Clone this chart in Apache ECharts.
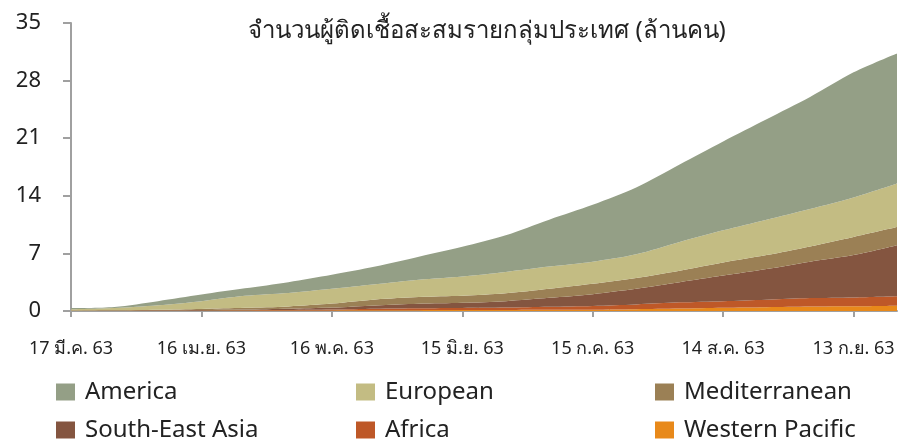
<!DOCTYPE html>
<html>
<head>
<meta charset="utf-8">
<script src="https://cdn.jsdelivr.net/npm/echarts@6/dist/echarts.min.js"></script>
<style>
  html, body { margin: 0; padding: 0; background: #fff; }
</style>
</head>
<body>
<div id="myChart" style="width: 900px; height: 442px"></div>
<script>
// วันนับจาก 17 มี.ค. 63
const days = [0, 10, 20, 30, 40, 50, 60, 70, 80, 90, 100, 110, 120, 130, 140, 150, 160, 170, 180, 190];
const tickDays = [0, 30, 60, 90, 120, 150, 180];
const tickLabels = ['17 มี.ค. 63', '16 เม.ย. 63', '16 พ.ค. 63', '15 มิ.ย. 63', '15 ก.ค. 63', '14 ส.ค. 63', '13 ก.ย. 63'];

// ล้านคน
const america       = [0.15, 0.15, 0.5, 0.8, 0.9, 1.3, 1.7, 2.15, 2.8, 3.6, 4.45, 5.7, 6.9, 8.1, 9.4, 10.8, 12.2, 13.6, 15.2, 15.8];
const european      = [0.15, 0.27, 0.55, 0.95, 1.47, 1.65, 1.8, 1.85, 2.1, 2.35, 2.6, 2.7, 2.7, 2.9, 3.5, 3.9, 4.3, 4.55, 4.8, 5.3];
const mediterranean = [0.02, 0.03, 0.07, 0.13, 0.2, 0.27, 0.48, 0.72, 0.82, 0.85, 0.95, 1.1, 1.25, 1.3, 1.4, 1.6, 1.7, 1.85, 2.2, 2.2];
const seAsia        = [0.01, 0.02, 0.03, 0.05, 0.08, 0.16, 0.25, 0.4, 0.54, 0.63, 0.78, 1.08, 1.43, 1.9, 2.45, 3.1, 3.72, 4.43, 5.15, 6.2];
const africa        = [0.01, 0.01, 0.02, 0.03, 0.05, 0.06, 0.1, 0.2, 0.24, 0.26, 0.3, 0.38, 0.46, 0.58, 0.75, 0.8, 0.91, 1.02, 1.07, 1.15];
const westPacific   = [0.01, 0.02, 0.03, 0.04, 0.05, 0.06, 0.07, 0.08, 0.1, 0.11, 0.12, 0.14, 0.16, 0.22, 0.3, 0.4, 0.47, 0.55, 0.58, 0.65];

const font = 'Tahoma, "Noto Sans", "DejaVu Sans", sans-serif';
const DAY = 24 * 60 * 60 * 1000;
const start = Date.UTC(2020, 2, 17);

function pairs(arr) {
  return arr.map((v, i) => [start + days[i] * DAY, v]);
}

// วาดจากล่างขึ้นบน
const layers = [
  { name: 'Western Pacific', data: westPacific, color: '#e8891a' },
  { name: 'Africa', data: africa, color: '#be5828' },
  { name: 'South-East Asia', data: seAsia, color: '#845540' },
  { name: 'Mediterranean', data: mediterranean, color: '#9b8055' },
  { name: 'European', data: european, color: '#c3bc83' },
  { name: 'America', data: america, color: '#949f86' },
];

// ตำแหน่ง legend 3 คอลัมน์ x 2 แถว
const legendSpots = [
  ['America', 56, 380], ['European', 356, 380], ['Mediterranean', 655, 380],
  ['South-East Asia', 56, 418], ['Africa', 356, 418], ['Western Pacific', 655, 418],
];

let myChart = echarts.init(document.getElementById('myChart'));
myChart.setOption({
  animation: false,
  title: {
    text: 'จำนวนผู้ติดเชื้อสะสมรายกลุ่มประเทศ (ล้านคน)',
    left: 482,
    textAlign: 'center',
    top: 14,
    textStyle: { fontFamily: font, fontSize: 24, fontWeight: 'normal', color: '#222' },
  },
  legend: legendSpots.map(([name, x, y]) => ({
    left: x,
    top: y,
    padding: 0,
    data: [name],
    itemWidth: 19,
    itemHeight: 17,
    icon: 'rect',
    selectedMode: false,
    textStyle: { fontFamily: font, fontSize: 24, color: '#222', padding: [0, 0, 0, 5] },
  })),
  grid: { left: 71, right: 3, top: 23, bottom: 131 },
  xAxis: [
    // แกนเวลาสำหรับข้อมูล (ซ่อน)
    {
      type: 'time',
      min: start,
      max: start + 190 * DAY,
      show: false,
    },
    // แกนที่แสดงป้ายวันที่
    {
      type: 'value',
      position: 'bottom',
      min: 0,
      max: 190,
      interval: 30,
      splitLine: { show: false },
      axisLine: { lineStyle: { color: '#a0a0a0', width: 2 } },
      axisTick: { length: 6, lineStyle: { color: '#a0a0a0', width: 2 }, customValues: tickDays },
      axisLabel: {
        customValues: tickDays,
        margin: 29,
        fontFamily: font,
        fontSize: 18,
        color: '#222',
        formatter: (v) => tickLabels[Math.round(v / 30)] || '',
      },
    },
  ],
  yAxis: {
    type: 'value',
    min: 0,
    max: 35,
    interval: 7,
    splitLine: { show: false },
    axisLine: { show: true, lineStyle: { color: '#a0a0a0', width: 2 } },
    axisTick: { show: true, length: 8, lineStyle: { color: '#a0a0a0', width: 2 } },
    axisLabel: { margin: 30, fontFamily: font, fontSize: 22, color: '#222' },
  },
  series: layers.map((l) => ({
    name: l.name,
    type: 'line',
    xAxisIndex: 0,
    stack: 'total',
    smooth: 0.3,
    data: pairs(l.data),
    symbol: 'none',
    lineStyle: { width: 0 },
    itemStyle: { color: l.color },
    areaStyle: { color: l.color, opacity: 1 },
  })),
});
</script>
</body>
</html>
